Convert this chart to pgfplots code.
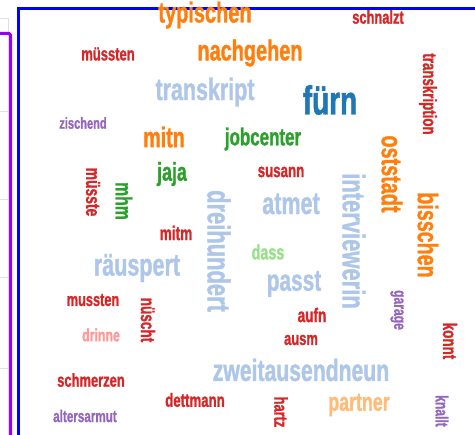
\documentclass[border=0pt]{standalone}
\usepackage{fontspec}
\usepackage{pgfplots}
\pgfplotsset{compat=1.18}
\setmainfont{Liberation Sans}
\newfontfamily\cloudfont[Scale=1.08, FakeStretch=0.69, FakeBold=1.2]{Liberation Sans}
\definecolor{corange}{HTML}{FF7F0E}
\definecolor{clblue}{HTML}{AEC7E8}
\definecolor{cblue}{HTML}{1F77B4}
\definecolor{cred}{HTML}{D62728}
\definecolor{cgreen}{HTML}{2CA02C}
\definecolor{clgreen}{HTML}{98DF8A}
\definecolor{cpurple}{HTML}{9467BD}
\definecolor{clorange}{HTML}{FFBB78}
\definecolor{cpink}{HTML}{FF9896}
\definecolor{framblue}{RGB}{0,0,255}
\definecolor{frampurple}{RGB}{150,0,255}
% one word: x, y, word, font size, rotation, colour
\newcommand{\cw}[6]{%
  \addplot[draw=none, mark=none, point meta=explicit symbolic,
    nodes near coords,
    nodes near coords style={anchor=center, inner sep=0pt, rotate=#5, text=#6,
      font=\cloudfont\bfseries\fontsize{#4}{#4}\selectfont}]
    coordinates {(#1,#2)[#3]};}

\begin{document}
\begin{tikzpicture}
\begin{axis}[
  hide axis, scale only axis,
  width=475bp, height=435bp,
  xmin=0, xmax=475, ymin=0, ymax=435,
  y dir=reverse, clip=false]
\cw{205}{15}{typischen}{26.9}{0}{corange}
\cw{250}{53}{nachgehen}{26.8}{0}{corange}
\cw{108}{54}{müssten}{17.5}{0}{cred}
\cw{205}{92}{transkript}{28.9}{0}{clblue}
\cw{83}{123}{zischend}{14.9}{0}{cpurple}
\cw{164}{137}{mitn}{26.5}{0}{corange}
\cw{263}{139}{jobcenter}{22.8}{0}{cgreen}
\cw{378}{17}{schnalzt}{17.3}{0}{cred}
\cw{330}{100}{fürn}{37.7}{0}{cblue}
\cw{428}{94}{transkription}{17.9}{-90}{cred}
\cw{392}{174}{oststadt}{26.7}{-90}{corange}
\cw{281}{172}{susann}{17.9}{0}{cred}
\cw{291}{204}{atmet}{29.0}{0}{clblue}
\cw{354}{241}{interviewerin}{29.6}{-90}{clblue}
\cw{428}{235}{bisschen}{26.5}{-90}{corange}
\cw{268}{252}{dass}{19.3}{0}{clgreen}
\cw{294}{284}{passt}{28.1}{0}{clblue}
\cw{172}{174}{jaja}{24.0}{0}{cgreen}
\cw{93}{192}{müsste}{18.7}{-90}{cred}
\cw{124}{201}{mhm}{21.2}{-90}{cgreen}
\cw{176}{233}{mitm}{18.4}{0}{cred}
\cw{137}{268}{räuspert}{29.0}{0}{clblue}
\cw{219}{251}{dreihundert}{29.5}{-90}{clblue}
\cw{93}{300}{mussten}{17.2}{0}{cred}
\cw{148}{320}{nüscht}{18.3}{-90}{cred}
\cw{101}{335}{drinne}{16.6}{0}{cpink}
\cw{91}{380}{schmerzen}{17.4}{0}{cred}
\cw{195}{400}{dettmann}{17.8}{0}{cred}
\cw{85}{416}{altersarmut}{15.7}{0}{cpurple}
\cw{301}{370}{zweitausendneun}{28.5}{0}{clblue}
\cw{312}{315}{aufn}{18.3}{0}{cred}
\cw{301}{340}{ausm}{17.4}{0}{cred}
\cw{397}{310}{garage}{16.3}{-90}{cpurple}
\cw{450}{341}{konnt}{18.1}{-90}{cred}
\cw{281}{412}{hartz}{17.3}{-90}{cred}
\cw{359}{405}{partner}{24.0}{0}{clorange}
\cw{442}{411}{knallt}{16.3}{-90}{cpurple}
% mask above the frame
\fill[white] (axis cs:0,0) rectangle (axis cs:475,7);
% light grey panel lines at the far left
\draw[gray!25, line width=0.8bp] (axis cs:0,18) -- (axis cs:8,18) -- (axis cs:8,435);
\draw[gray!25, line width=0.8bp] (axis cs:0,111) -- (axis cs:8,111);
\draw[gray!25, line width=0.8bp] (axis cs:0,199) -- (axis cs:8,199);
\draw[gray!25, line width=0.8bp] (axis cs:0,277) -- (axis cs:8,277);
\draw[gray!25, line width=0.8bp] (axis cs:0,368) -- (axis cs:8,368);
% purple frame
\draw[frampurple, line width=3bp, rounded corners=1.5bp] (axis cs:-2,33.5) -- (axis cs:10.5,33.5) -- (axis cs:10.5,440);
% blue frame
\draw[framblue, line width=3bp] (axis cs:18,440) -- (axis cs:18,8.5) -- (axis cs:477,8.5);
\end{axis}
\pgfresetboundingbox
\path (current axis.south west) rectangle (current axis.north east);
\end{tikzpicture}
\end{document}
